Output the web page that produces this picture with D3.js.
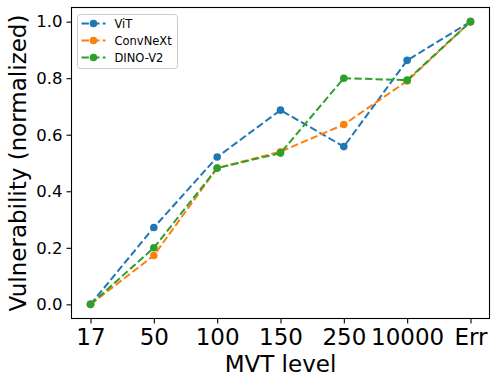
<!DOCTYPE html>
<html lang="en">
<head>
    <meta charset="UTF-8">
    <title>MVT level vulnerability</title>
    <script src="https://d3js.org/d3.v7.min.js"></script>
    <style type="text/css">
        body {
            margin: 0;
            background-color: white;
        }

        text {
            font-family: "DejaVu Sans", sans-serif;
            fill: black;
        }

        .axis path, .axis line {
            stroke: black;
            stroke-width: 1.1px;
        }

        .xaxis text {
            font-size: 23px;
        }

        .yaxis text {
            font-size: 16.5px;
        }

        .label {
            font-size: 23px;
            text-anchor: middle;
        }

        .line {
            fill: none;
            stroke-width: 2px;
            stroke-dasharray: 7.4 3.2;
        }

        .legend-text {
            font-size: 11.5px;
        }
    </style>
</head>
<body>
    <script type="text/javascript">
        //DATA
        const levels = ["17", "50", "100", "150", "250", "10000", "Err"];
        const seriesNames = ["ViT", "ConvNeXt", "DINO-V2"];
        const seriesColors = ["#1f77b4", "#ff7f0e", "#2ca02c"];
        const vit = [0.0, 0.272, 0.521, 0.687, 0.558, 0.863, 1.0];
        const convnext = [0.0, 0.173, 0.482, 0.540, 0.636, 0.790, 1.0];
        const dino = [0.0, 0.200, 0.482, 0.535, 0.800, 0.793, 1.0];
        const yTicks = [0.0, 0.2, 0.4, 0.6, 0.8, 1.0];

        //CONSTANTS
        const width = 498;
        const height = 386;
        const plotLeft = 71.5, plotRight = 489.5, plotTop = 7.5, plotBottom = 318.5;

        const allSeries = [vit, convnext, dino];

        //CREATE SVG
        const svg = d3.select("body")
            .append("svg")
            .attr("width", width)
            .attr("height", height);

        //SCALES
        const xScale = d3.scalePoint()
            .domain(levels)
            .range([plotLeft, plotRight])
            .padding(0.3);

        const yScale = d3.scaleLinear()
            .domain([-0.05, 1.05])
            .range([plotBottom, plotTop]);

        //X AXIS
        svg.append("g")
            .attr("class", "axis xaxis")
            .attr("transform", "translate(0," + plotBottom + ")")
            .call(d3.axisBottom(xScale).tickSize(5).tickPadding(5).tickSizeOuter(0))
            .call(g => g.select(".domain").remove());

        //Y AXIS
        svg.append("g")
            .attr("class", "axis yaxis")
            .attr("transform", "translate(" + plotLeft + ",0)")
            .call(d3.axisLeft(yScale).tickValues(yTicks).tickFormat(d3.format(".1f"))
                .tickSize(5).tickPadding(4).tickSizeOuter(0))
            .call(g => g.select(".domain").remove());

        //AXES FRAME
        svg.append("rect")
            .attr("x", plotLeft)
            .attr("y", plotTop)
            .attr("width", plotRight - plotLeft)
            .attr("height", plotBottom - plotTop)
            .attr("fill", "none")
            .attr("stroke", "black")
            .attr("stroke-width", 1.1);

        //LINES + MARKERS
        const line = d3.line()
            .x((d, i) => xScale(levels[i]))
            .y(d => yScale(d));

        allSeries.forEach((values, s) => {
            svg.append("path")
                .attr("class", "line")
                .attr("d", line(values))
                .attr("stroke", seriesColors[s]);

            svg.selectAll(".dot" + s)
                .data(values)
                .enter()
                .append("circle")
                .attr("class", "dot" + s)
                .attr("cx", (d, i) => xScale(levels[i]))
                .attr("cy", d => yScale(d))
                .attr("r", 3.8)
                .attr("fill", seriesColors[s]);
        });

        //LEGEND
        const legend = svg.append("g")
            .attr("transform", "translate(77.5,14.5)");

        legend.append("rect")
            .attr("width", 100)
            .attr("height", 54)
            .attr("rx", 3)
            .attr("fill", "white")
            .attr("fill-opacity", 0.8)
            .attr("stroke", "#cccccc");

        seriesNames.forEach((name, i) => {
            const yPos = 9 + i * 17;
            legend.append("line")
                .attr("class", "line")
                .attr("x1", 4)
                .attr("x2", 28)
                .attr("y1", yPos)
                .attr("y2", yPos)
                .attr("stroke", seriesColors[i]);
            legend.append("circle")
                .attr("cx", 16)
                .attr("cy", yPos)
                .attr("r", 3.8)
                .attr("fill", seriesColors[i]);
            legend.append("text")
                .attr("class", "legend-text")
                .attr("x", 37)
                .attr("y", yPos)
                .attr("dy", "0.35em")
                .text(name);
        });

        //X LABEL
        svg.append("text")
            .attr("class", "label")
            .attr("x", (plotLeft + plotRight) / 2)
            .attr("y", 372)
            .text("MVT level");

        //Y LABEL
        svg.append("text")
            .attr("class", "label")
            .attr("transform", "rotate(-90)")
            .attr("x", -(plotTop + plotBottom) / 2)
            .attr("y", 26)
            .text("Vulnerability (normalized)");
    </script>
</body>
</html>
